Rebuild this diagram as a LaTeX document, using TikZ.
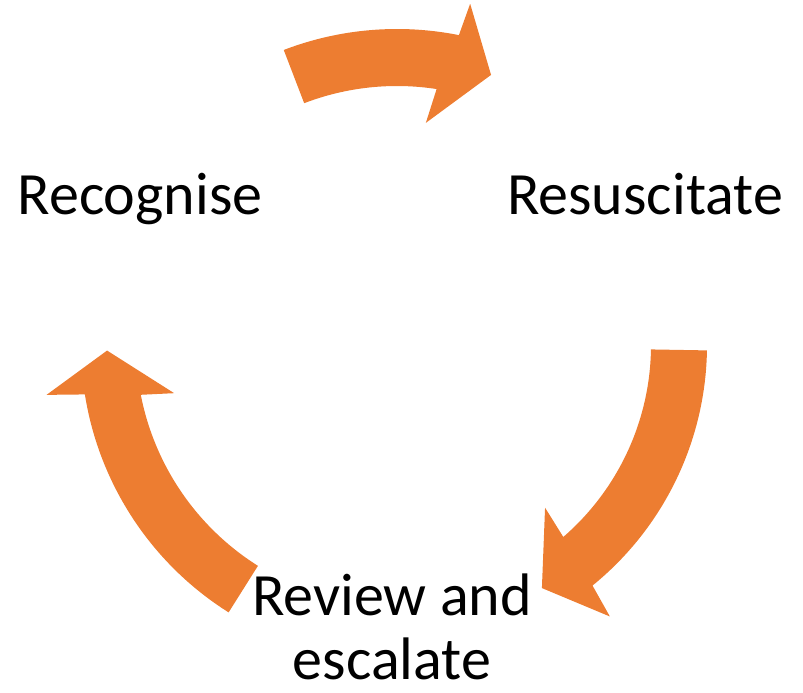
\documentclass[tikz,border=0pt]{standalone}
\usepackage{fontspec}
\setmainfont{Carlito}
\definecolor{cyclearrow}{RGB}{237,125,49}
\tikzset{
  cyclefill/.style={fill=cyclearrow},
  cyclelabel/.style={anchor=base, inner sep=0pt, align=center, font=\fontsize{60}{64}\selectfont}
}

\begin{document}
\begin{tikzpicture}[x=1pt, y=1pt]
  \useasboundingbox (0,0) rectangle (803,693);
  \begin{scope}[shift={(397,348)}]
  	\coordinate (hub) at (0,0);
  	\fill[cyclefill] (111:316) arc[start angle=111, end angle=78.7, radius=316] -- (77.9:349) -- (70.8:286) -- (82.6:224) -- (81.2:259) arc[start angle=81.2, end angle=111, radius=259] -- cycle;
  	\fill[cyclefill] (-1:310) arc[start angle=-1, end angle=-50.9, radius=310] -- (-51.9:345) -- (-59.2:283) -- (-47.7:220) -- (-49.1:254) arc[start angle=-49.1, end angle=-1, radius=254] -- cycle;
  	\fill[cyclefill] (237.8:316) arc[start angle=237.8, end angle=189, radius=316] -- (188.1:354) -- (181.1:290) -- (192.2:228) -- (191:261) arc[start angle=191, end angle=237.8, radius=261] -- cycle;
  \end{scope}
  \node[cyclelabel] (recognise) at (140,478) {Recognise};
  \node[cyclelabel] (resuscitate) at (645,478) {Resuscitate};
  \node[cyclelabel, text depth=0pt] (review) at (392,13) {Review and\\escalate};
\end{tikzpicture}
\end{document}
